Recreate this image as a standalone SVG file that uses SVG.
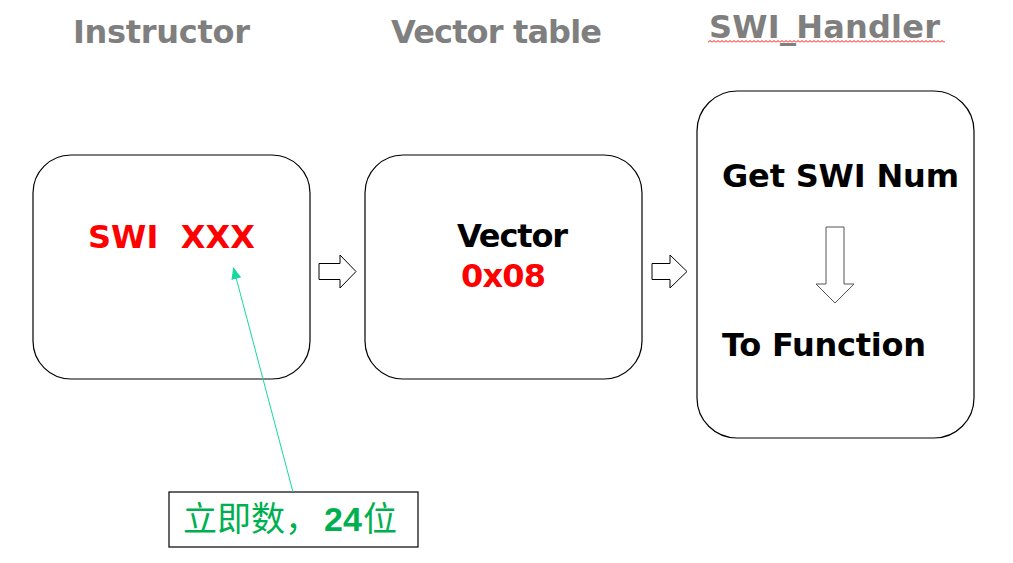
<svg xmlns="http://www.w3.org/2000/svg" width="1013" height="563" viewBox="0 0 1013 563">
  <style>
    .title { font-family: "DejaVu Sans", Verdana, sans-serif; font-weight: bold; font-size: 32px; fill: #7F7F7F; }
    .lbl { font-family: "DejaVu Sans", Verdana, sans-serif; font-weight: bold; font-size: 32px; }
    .red { fill: #FF0000; }
    .blk { fill: #000000; }
    .box { fill: #FFFFFF; stroke: #000000; stroke-width: 1.2; }
    .barrow { fill: #FFFFFF; stroke: #000000; stroke-width: 1; }
    .cjk { font-family: "Noto Sans CJK SC", sans-serif; }
  </style>
  <defs>
    <pattern id="wave" x="708" y="40" width="4" height="3" patternUnits="userSpaceOnUse">
      <polyline points="0,2.5 2,0.5 4,2.5" fill="none" stroke="#FF0000" stroke-width="1"/>
    </pattern>
    <marker id="tealhead" viewBox="0 0 12 10" refX="11" refY="5" markerWidth="12" markerHeight="10" markerUnits="userSpaceOnUse" orient="auto">
      <path d="M0,0 L12,5 L0,10 z" fill="#14D9A0"/>
    </marker>
  </defs>
  <rect width="1013" height="563" fill="#FFFFFF"/>

  <g id="titles">
    <text class="title" x="73" y="43" textLength="177">Instructor</text>
    <text class="title" x="391" y="43" textLength="211">Vector table</text>
    <text class="title" x="709" y="38" textLength="231">SWI_Handler</text>
    <rect x="708" y="40" width="237" height="3" fill="url(#wave)"/>
  </g>

  <g id="node-instructor">
    <rect class="box" x="33" y="155" width="277" height="224" rx="38" ry="38"/>
    <text class="lbl red" x="88" y="248" textLength="167" xml:space="preserve">SWI  XXX</text>
  </g>

  <g id="node-vector">
    <rect class="box" x="365" y="155" width="277" height="224" rx="38" ry="38"/>
    <text class="lbl blk" x="457" y="247" textLength="111">Vector</text>
    <text class="lbl red" x="461" y="287" textLength="85">0x08</text>
  </g>

  <g id="node-handler">
    <rect class="box" x="697" y="91" width="277" height="347" rx="40" ry="40"/>
    <text class="lbl blk" x="722" y="187" textLength="237">Get SWI Num</text>
    <polygon points="826,227 844,227 844,284 854,284 835,303 816,284 826,284" fill="#FFFFFF" stroke="#555555" stroke-width="1"/>
    <text class="lbl blk" x="722" y="356" textLength="204">To Function</text>
  </g>

  <g id="node-note">
    <rect x="169" y="492" width="249" height="55" fill="#FFFFFF" stroke="#000000" stroke-width="1.2"/>
    <text x="183" y="531" font-size="34" fill="#00B050"><tspan class="cjk">立即数，</tspan><tspan x="324" font-family="Liberation Sans, Arial, sans-serif" font-weight="bold">24</tspan><tspan class="cjk" x="363">位</tspan></text>
  </g>

  <g id="connectors">
    <polygon class="barrow" points="319,263.5 340,263.5 340,255 356,271.5 340,288 340,279.5 319,279.5"/>
    <polygon class="barrow" points="652,263.5 670,263.5 670,255 687,271.5 670,288 670,279.5 652,279.5"/>
    <line x1="293" y1="492" x2="233.5" y2="268" stroke="#14D9A0" stroke-width="1" marker-end="url(#tealhead)"/>
  </g>
</svg>
